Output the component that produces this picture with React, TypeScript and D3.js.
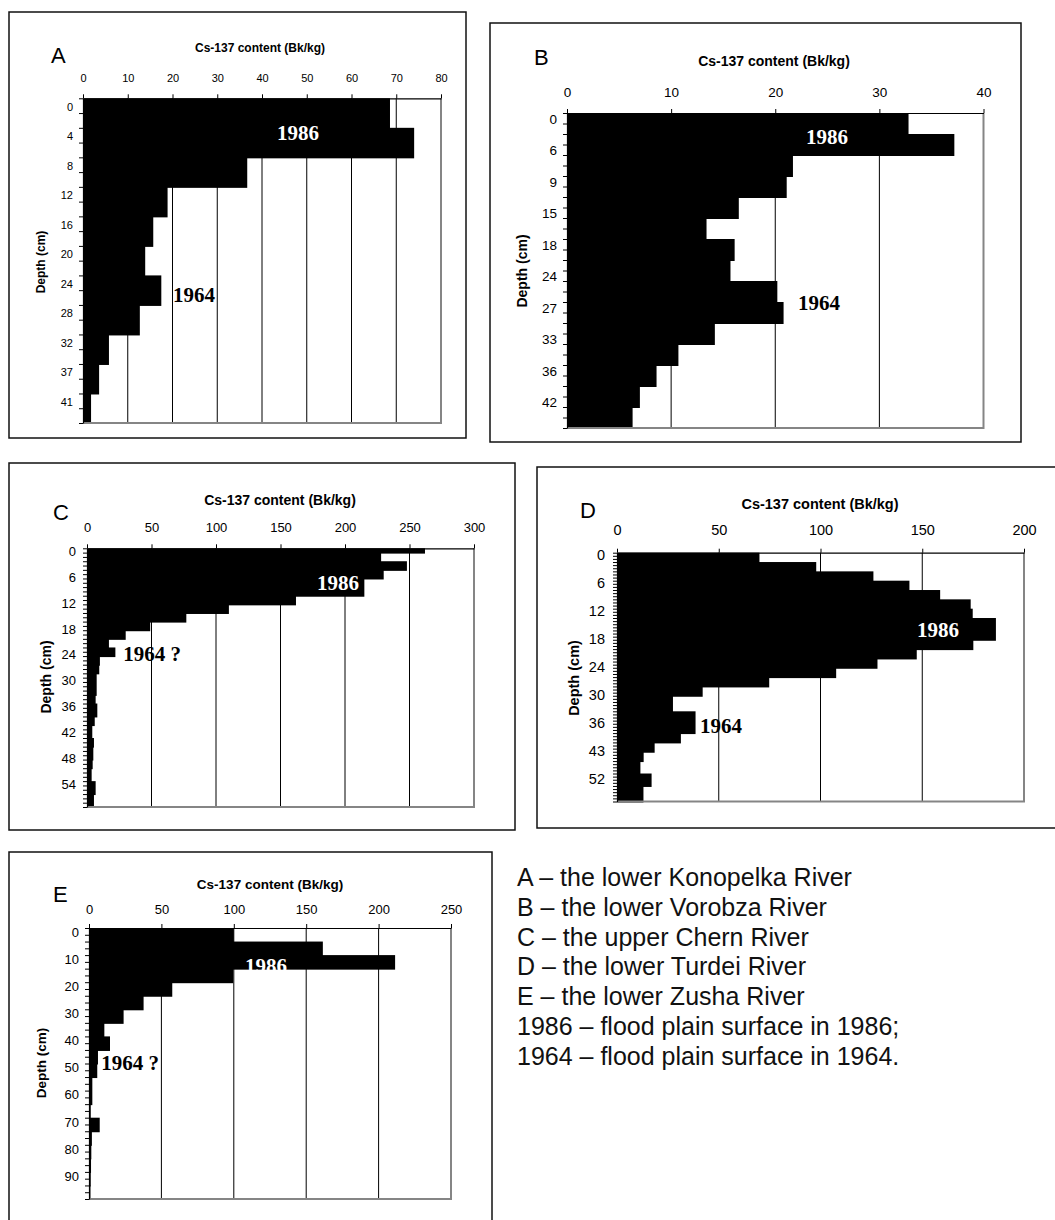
import React, { useEffect, useRef } from 'react';
import * as d3 from 'd3';

// Cs-137 values per sample (Bk/kg), spans = number of depth categories a sample covers
const aValues = [68.6, 74.0, 36.7, 18.9, 15.7, 13.9, 17.5, 12.7, 5.8, 3.6, 1.8];
const aSpans = [2, 2, 2, 2, 2, 2, 2, 2, 2, 2, 2];
const aDepthLabels = ["0", "4", "8", "12", "16", "20", "24", "28", "32", "37", "41"];
const aTicks = [0, 10, 20, 30, 40, 50, 60, 70, 80];

const bValues = [32.8, 37.2, 21.7, 21.1, 16.5, 13.4, 16.1, 15.7, 20.2, 20.8, 14.2, 10.7, 8.6, 7.0, 6.3];
const bSpans = [2, 2, 2, 2, 2, 2, 2, 2, 2, 2, 2, 2, 2, 2, 2];
const bDepthLabels = ["0", "6", "9", "15", "18", "24", "27", "33", "36", "42"];
const bTicks = [0, 10, 20, 30, 40];

const cValues = [262, 228, 248, 230, 215, 162, 110, 77, 49, 30, 17, 22, 10, 9.5, 7.5, 6.7, 8, 6, 4.1, 5.4, 4.9, 4.4, 3.6, 6.7, 5.4];
const cSpans = [1, 2, 2, 2, 4, 2, 2, 2, 2, 2, 2, 2, 2, 2, 5, 2, 3, 2, 3, 2, 3, 2, 3, 3, 3];
const cDepthLabels = ["0", "6", "12", "18", "24", "30", "36", "42", "48", "54"];
const cTicks = [0, 50, 100, 150, 200, 250, 300];

const dValues = [70, 97.9, 126, 143.7, 158.8, 173.8, 174.8, 186.2, 175.1, 147.3, 128, 107.7, 74.8, 42.1, 27.5, 38.6, 31.4, 18.5, 13.1, 11.5, 17, 13];
const dSpans = [3, 3, 3, 3, 3, 3, 3, 7, 3, 3, 3, 3, 3, 3, 5, 7, 3, 3, 3, 4, 4, 5];
const dDepthLabels = ["0", "6", "12", "18", "24", "30", "36", "43", "52"];
const dTicks = [0, 50, 100, 150, 200];

const eValues = [100, 161.5, 211.4, 99.6, 57.5, 37.7, 23.9, 10.6, 14.5, 6.2, 5.7, 2.3, 1.2, 7.4, 2.0, 1.6, 1.4, 1.2, 1.0];
const eSpans = [2, 2, 2, 2, 2, 2, 2, 2, 2, 2, 2, 4, 2, 2, 2, 2, 2, 2, 2];
const eDepthLabels = ["0", "10", "20", "30", "40", "50", "60", "70", "80", "90"];
const eTicks = [0, 50, 100, 150, 200, 250];

const legendLines = [
    "A \u2013 the lower Konopelka River",
    "B \u2013 the lower Vorobza River",
    "C \u2013 the upper Chern River",
    "D \u2013 the lower Turdei River",
    "E \u2013 the lower Zusha River",
    "1986 \u2013 flood plain surface in 1986;",
    "1964 \u2013 flood plain surface in 1964.",
];

const SANS = "'Liberation Sans', Arial, sans-serif";
const SERIF = "'Liberation Serif', 'Times New Roman', serif";

const panels = [
    {
        letter: "A", values: aValues, spans: aSpans, labels: aDepthLabels, labelEvery: 2, ticks: aTicks,
        frame: [9, 12, 466, 438], left: 83, right: 441, top: 98.3, bottom: 423,
        tickFont: 11, titleFont: 12, titleX: 260, titleY: 52, letterX: 51, letterY: 63, tickY: 82,
        depthX: 73, depthTitleX: 41, depthTitleY: 262,
        notes: [{ t: "1986", x: 298, y: 133, white: true }, { t: "1964", x: 194, y: 295 }],
    },
    {
        letter: "B", values: bValues, spans: bSpans, labels: bDepthLabels, labelEvery: 3, ticks: bTicks,
        frame: [490, 23, 1021, 442], left: 567, right: 983.5, top: 113, bottom: 428,
        tickFont: 13.5, titleFont: 14, titleX: 774, titleY: 66, letterX: 534, letterY: 65, tickY: 97,
        depthX: 557, depthTitleX: 522, depthTitleY: 271,
        notes: [{ t: "1986", x: 827, y: 137, white: true }, { t: "1964", x: 819, y: 303 }],
    },
    {
        letter: "C", values: cValues, spans: cSpans, labels: cDepthLabels, labelEvery: 6, ticks: cTicks,
        frame: [9, 463, 515, 830], left: 87, right: 474, top: 548.3, bottom: 807,
        tickFont: 13, titleFont: 14, titleX: 280, titleY: 505, letterX: 53, letterY: 520, tickY: 532,
        depthX: 76, depthTitleX: 46, depthTitleY: 677,
        notes: [{ t: "1986", x: 338, y: 583, white: true }, { t: "1964 ?", x: 152, y: 654 }],
    },
    {
        letter: "D", values: dValues, spans: dSpans, labels: dDepthLabels, labelEvery: 9, ticks: dTicks,
        frame: [537, 467, 1062, 828], left: 617, right: 1024, top: 552.7, bottom: 801.5,
        tickFont: 14.5, titleFont: 14.5, titleX: 820, titleY: 509, letterX: 580, letterY: 518, tickY: 535,
        depthX: 605, depthTitleX: 574, depthTitleY: 678,
        notes: [{ t: "1986", x: 938, y: 630, white: true }, { t: "1964", x: 721, y: 726 }],
    },
    {
        letter: "E", values: eValues, spans: eSpans, labels: eDepthLabels, labelEvery: 4, ticks: eTicks,
        frame: [9, 852, 492, 1230], left: 89, right: 451, top: 928, bottom: 1199,
        tickFont: 13, titleFont: 13.5, titleX: 270, titleY: 889, letterX: 53, letterY: 902, tickY: 914,
        depthX: 79, depthTitleX: 41, depthTitleY: 1063,
        notes: [{ t: "1986", x: 266, y: 966, white: true }, { t: "1964 ?", x: 130, y: 1063 }],
    },
];

function drawPanel(svg, p) {
    const g = svg.append("g");
    const [fx1, fy1, fx2, fy2] = p.frame;

    g.append("rect")
        .attr("x", fx1).attr("y", fy1)
        .attr("width", fx2 - fx1).attr("height", fy2 - fy1)
        .attr("fill", "#fff")
        .attr("stroke", "#111")
        .attr("stroke-width", 1.5);

    const nCats = d3.sum(p.spans);
    const x = d3.scaleLinear().domain([0, d3.max(p.ticks)]).range([p.left, p.right]);
    const y = d3.scaleBand().domain(d3.range(nCats)).range([p.top, p.bottom]).padding(0);
    const yIdx = d3.scaleLinear().domain([0, nCats]).range([p.top, p.bottom]);

    // vertical gridlines
    g.selectAll(".grid")
        .data(p.ticks.slice(1, -1))
        .enter().append("line")
        .attr("x1", d => x(d)).attr("x2", d => x(d))
        .attr("y1", p.top).attr("y2", p.bottom)
        .attr("stroke", "#000")
        .attr("stroke-width", 1);

    // bars, each sample covers spans[i] depth categories
    let start = 0;
    const bars = p.values.map((v, i) => {
        const b = { v, start, span: p.spans[i] };
        start += p.spans[i];
        return b;
    });
    // overlap each bar 1px into the next one so no seams show
    g.selectAll(".bar")
        .data(bars)
        .enter().append("rect")
        .attr("x", x(0))
        .attr("y", d => y(d.start))
        .attr("width", d => x(d.v) - x(0))
        .attr("height", d => y.bandwidth() * d.span + 1)
        .attr("fill", "#000");

    // gray plot border right + bottom
    g.append("path")
        .attr("d", `M${p.right},${p.top}V${p.bottom}H${p.left}`)
        .attr("fill", "none")
        .attr("stroke", "#858585")
        .attr("stroke-width", 2);

    // top value axis
    const top = g.append("g")
        .attr("transform", `translate(0,${p.top})`)
        .call(d3.axisTop(x).tickValues(p.ticks).tickSize(4).tickSizeOuter(0)
            .tickPadding(p.top - p.tickY - 4));
    top.select(".domain").attr("stroke", "#000").attr("stroke-width", 1.2);
    top.selectAll(".tick line").attr("stroke", "#000");
    top.selectAll(".tick text")
        .attr("font-family", SANS)
        .attr("font-size", p.tickFont)
        .attr("fill", "#000");

    // left depth axis
    const left = g.append("g")
        .attr("transform", `translate(${p.left},0)`)
        .call(d3.axisLeft(yIdx).tickValues(d3.range(nCats + 1)).tickSize(4).tickSizeOuter(0)
            .tickFormat(() => ""));
    left.select(".domain").attr("stroke", "#000").attr("stroke-width", 1.2);
    left.selectAll(".tick line").attr("stroke", "#000");

    g.selectAll(".depth")
        .data(p.labels)
        .enter().append("text")
        .attr("x", p.depthX)
        .attr("y", (d, i) => y(i * p.labelEvery) + y.bandwidth() / 2 + 1)
        .attr("text-anchor", "end")
        .attr("dominant-baseline", "central")
        .attr("font-family", SANS)
        .attr("font-size", p.tickFont)
        .text(d => d);

    g.append("text")
        .attr("x", p.titleX).attr("y", p.titleY)
        .attr("text-anchor", "middle")
        .attr("font-family", SANS)
        .attr("font-weight", "bold")
        .attr("font-size", p.titleFont)
        .text("Cs-137 content (Bk/kg)");

    g.append("text")
        .attr("transform", `translate(${p.depthTitleX},${p.depthTitleY}) rotate(-90)`)
        .attr("text-anchor", "middle")
        .attr("dominant-baseline", "central")
        .attr("font-family", SANS)
        .attr("font-weight", "bold")
        .attr("font-size", p.titleFont)
        .text("Depth (cm)");

    g.append("text")
        .attr("x", p.letterX).attr("y", p.letterY)
        .attr("font-family", SANS)
        .attr("font-size", 22)
        .text(p.letter);

    g.selectAll(".note")
        .data(p.notes)
        .enter().append("text")
        .attr("x", d => d.x).attr("y", d => d.y)
        .attr("text-anchor", "middle")
        .attr("dominant-baseline", "central")
        .attr("font-family", SERIF)
        .attr("font-weight", "bold")
        .attr("font-size", 21)
        .attr("fill", d => d.white ? "#fff" : "#000")
        .text(d => d.t);
}

function App() {
    const ref = useRef(null);

    useEffect(() => {
        const svg = d3.select(ref.current);
        svg.selectAll("*").remove();

        svg.append("rect").attr("width", 1055).attr("height", 1220).attr("fill", "#fff");

        panels.forEach(p => drawPanel(svg, p));

        svg.append("g")
            .selectAll("text")
            .data(legendLines)
            .enter().append("text")
            .attr("x", 517)
            .attr("y", (d, i) => 886 + i * 29.8)
            .attr("font-family", SANS)
            .attr("font-size", 25)
            .attr("fill", "#111")
            .text(d => d);
    }, []);

    return (
        <svg ref={ref} width={1055} height={1220}
            style={{ position: 'absolute', top: 0, left: 0, display: 'block' }} />
    );
}

export default App;
